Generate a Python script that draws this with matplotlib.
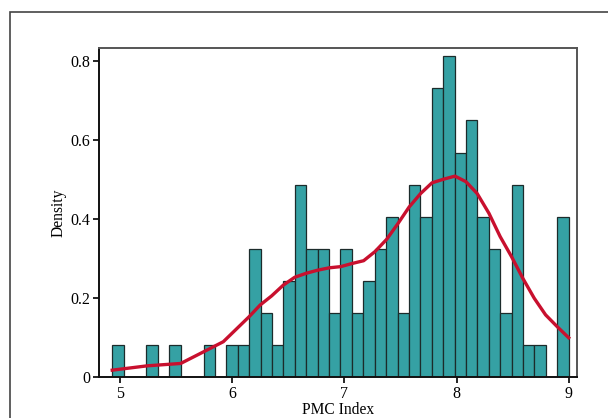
import matplotlib
matplotlib.use('Agg')
import matplotlib.pyplot as plt
from matplotlib.patches import Rectangle
import numpy as np

plt.rcParams['font.family'] = ['Liberation Serif', 'DejaVu Serif']

# histogram: 40 bins, counts (N = 121)
bin_start = 4.931
bin_end = 9.0
counts = [1, 0, 0, 1, 0, 1, 0, 0, 1, 0,
          1, 1, 4, 2, 1, 3, 6, 4, 4, 2,
          4, 2, 3, 4, 5, 2, 6, 5, 9, 10,
          7, 8, 5, 4, 2, 6, 1, 1, 0, 5]

# smoothed density curve (red)
curve_x = [4.931, 5.243, 5.541, 5.749, 5.921, 6.150, 6.250, 6.352, 6.455, 6.557,
           6.658, 6.762, 6.865, 6.967, 7.070, 7.172, 7.273, 7.377, 7.478, 7.578,
           7.680, 7.781, 7.881, 7.986, 8.084, 8.184, 8.289, 8.389, 8.491, 8.592,
           8.693, 8.794, 8.898, 9.000]
curve_y = [0.018, 0.029, 0.035, 0.065, 0.090, 0.153, 0.183, 0.206, 0.233, 0.253,
           0.263, 0.271, 0.277, 0.280, 0.288, 0.295, 0.318, 0.349, 0.389, 0.431,
           0.465, 0.492, 0.501, 0.509, 0.495, 0.465, 0.415, 0.356, 0.305, 0.250,
           0.200, 0.158, 0.128, 0.100]

xticks = [5, 6, 7, 8, 9]
yticks = [0, 0.2, 0.4, 0.6, 0.8]
ytick_labels = ['0', '0.2', '0.4', '0.6', '0.8']

edges = np.linspace(bin_start, bin_end, len(counts) + 1)
width = edges[1] - edges[0]
density = np.array(counts) / (sum(counts) * width)

fig = plt.figure(figsize=(6.08, 4.18), dpi=100)
ax = fig.add_axes([0.1623, 0.0974, 0.9490 - 0.1623, 0.8859 - 0.0974])

ax.bar(edges[:-1], density, width=width, align='edge',
       color='#35A1A4', edgecolor='#1c2b2b', linewidth=0.9)
ax.plot(curve_x, curve_y, color='#C8102E', linewidth=2.4, zorder=3)

ax.set_xlim(4.81, 9.074)
ax.set_ylim(0, 0.834)
ax.set_xticks(xticks)
ax.set_yticks(yticks)
ax.set_yticklabels(ytick_labels)
ax.tick_params(direction='out', length=4, width=1.2, labelsize=11.5, pad=2)

ax.set_xlabel('PMC Index', fontsize=11.2, labelpad=0)
ax.set_ylabel('Density', fontsize=11.2, labelpad=3)

for side in ['left', 'bottom']:
    ax.spines[side].set_linewidth(1.4)
    ax.spines[side].set_color('#111111')
for side in ['top', 'right']:
    ax.spines[side].set_linewidth(1.4)
    ax.spines[side].set_color('#555555')

# outer frame (cropped on the right and bottom)
fig.add_artist(Rectangle((9.5 / 608, -0.1), 1.2, 0.1 + (1 - 12 / 418),
                         transform=fig.transFigure, fill=False,
                         edgecolor='#444444', linewidth=1.2))

fig.savefig('out.png', dpi=100)
